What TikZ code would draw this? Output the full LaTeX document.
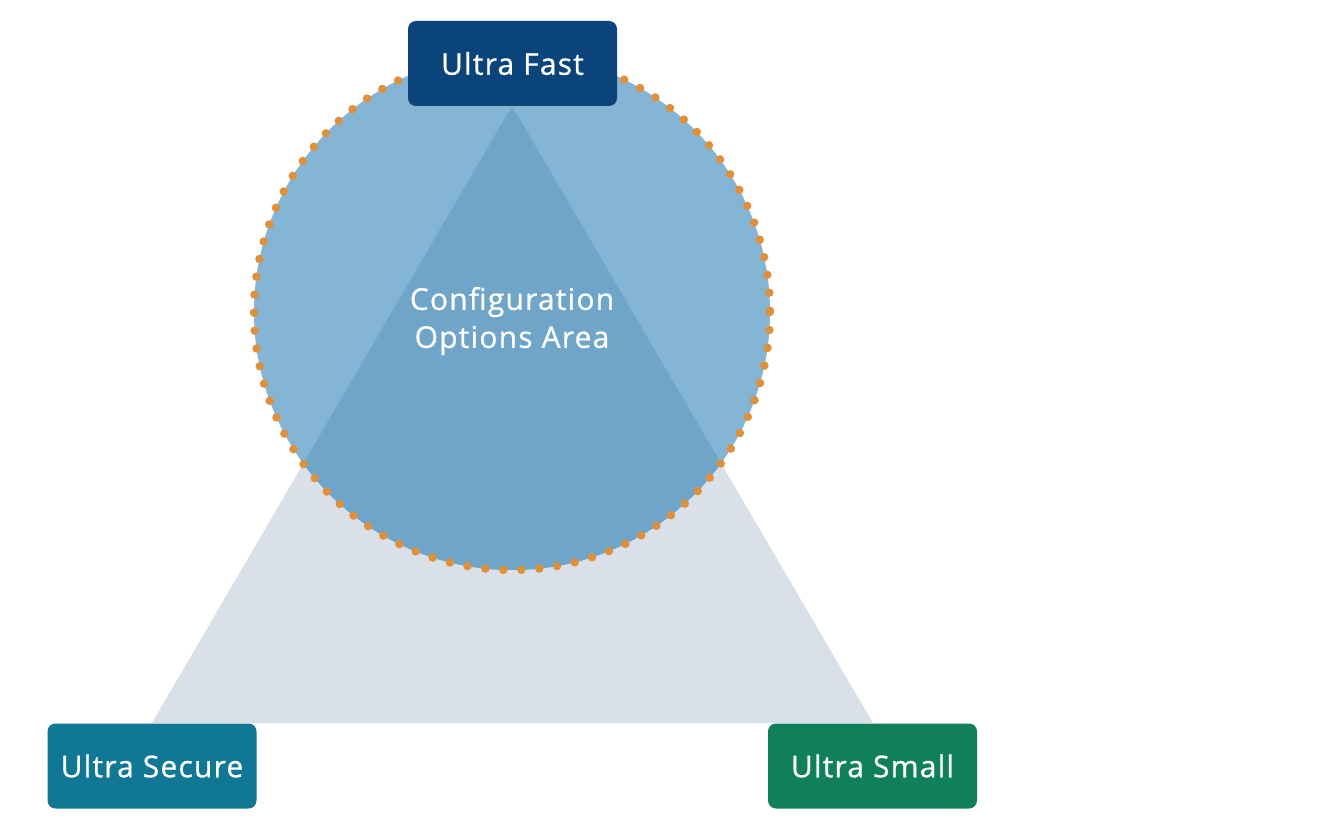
\documentclass[tikz,border=0pt]{standalone}
\usepackage{fontspec}
\setmainfont{Open Sans}[FakeBold=0.8, LetterSpace=4]
\definecolor{trigray}{HTML}{DAE0E8}
\definecolor{circblue}{HTML}{85B5D5}
\definecolor{overblue}{HTML}{6FA5C9}
\definecolor{dotorange}{HTML}{E08F3A}
\definecolor{fastblue}{HTML}{0B437B}
\definecolor{securecol}{HTML}{107894}
\definecolor{smallcol}{HTML}{108058}
\begin{document}
\begin{tikzpicture}[x=1pt,y=-1pt,
  label box/.style={rounded corners=8pt, minimum width=209pt, minimum height=85pt, inner sep=0pt, text=white, font=\fontsize{30}{32}\selectfont},
  center text/.style={text=white, align=center, font=\fontsize{30}{38}\selectfont}]
\useasboundingbox (0,0) rectangle (1334,834);
\coordinate (ta) at (512,106);
\coordinate (tb) at (152,723);
\coordinate (tc) at (873,723);
\coordinate (cc) at (512,312);
\fill[trigray] (ta) -- (tb) -- (tc) -- cycle;
\fill[circblue] (cc) circle (258);
\begin{scope}
  \clip (cc) circle (258);
  \fill[overblue] (ta) -- (tb) -- (tc) -- cycle;
\end{scope}
\draw[dotorange, line width=8.5pt, line cap=round, dash pattern=on 0pt off 18pt] (cc) circle (258);
\node[label box, fill=fastblue] (fast) at (512.5,63.5) {Ultra Fast};
\node[label box, fill=securecol] (secure) at (152,766) {Ultra Secure};
\node[label box, fill=smallcol] (small) at (872.5,766) {Ultra Small};
\node[center text] (area) at (512,321) {Configuration\\Options Area};
\end{tikzpicture}
\end{document}
